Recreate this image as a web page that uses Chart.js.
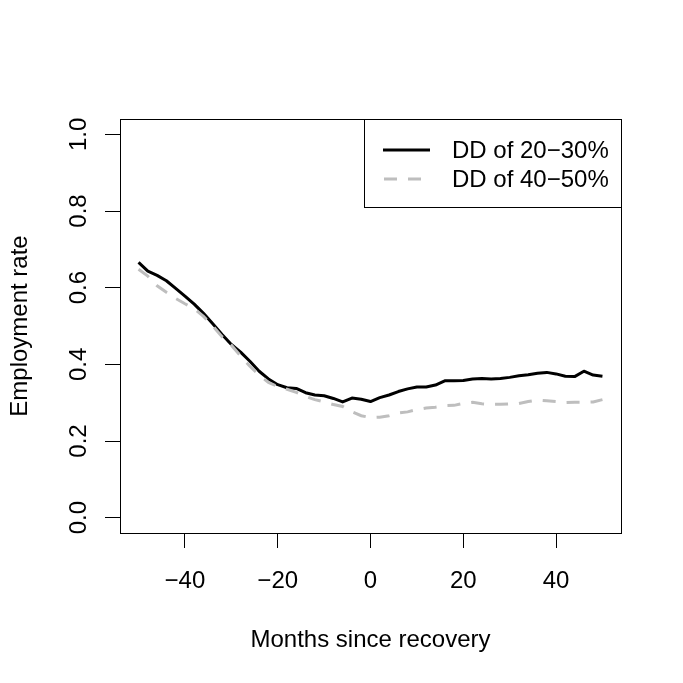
<!DOCTYPE html>
<html>
<head>
<meta charset="utf-8">
<script src="https://cdn.jsdelivr.net/npm/chart.js@4"></script>
<style>
  html, body { margin: 0; padding: 0; background: #fff; }
  canvas { display: block; }
</style>
</head>
<body>
<canvas id="chart" width="683" height="683"></canvas>
<script>
// --- Data ---
const months = [-50, -48, -46, -44, -42, -40, -38, -36, -34, -32, -30, -28, -26, -24, -22, -20, -18, -16, -14, -12, -10,
                -8, -6, -4, -2, 0, 2, 4, 6, 8, 10, 12, 14, 16, 18, 20, 22, 24, 26, 28, 30,
                32, 34, 36, 38, 40, 42, 44, 46, 48, 50];
const dd2030 = [0.666, 0.643, 0.632, 0.618, 0.598, 0.578, 0.557, 0.533, 0.506, 0.478, 0.452, 0.432, 0.408, 0.382, 0.362, 0.347, 0.339, 0.337, 0.326, 0.320, 0.318,
                0.311, 0.302, 0.312, 0.309, 0.303, 0.313, 0.320, 0.329, 0.336, 0.341, 0.341, 0.346, 0.357, 0.357, 0.358, 0.362, 0.363, 0.362, 0.363, 0.366,
                0.370, 0.373, 0.377, 0.379, 0.375, 0.369, 0.368, 0.382, 0.372, 0.369];
const dd4050 = [0.648, 0.630, 0.605, 0.588, 0.572, 0.558, 0.545, 0.525, 0.500, 0.472, 0.450, 0.422, 0.395, 0.372, 0.353, 0.342, 0.335, 0.327, 0.316, 0.308, 0.302,
                0.295, 0.290, 0.276, 0.266, 0.261, 0.262, 0.266, 0.273, 0.276, 0.282, 0.286, 0.288, 0.292, 0.293, 0.298, 0.301, 0.297, 0.296, 0.296, 0.297,
                0.298, 0.303, 0.307, 0.305, 0.303, 0.300, 0.301, 0.301, 0.302, 0.308];
const xTicks = [-40, -20, 0, 20, 40];
const yTicks = [0, 0.2, 0.4, 0.6, 0.8, 1.0];
const yTickLabels = ['0.0', '0.2', '0.4', '0.6', '0.8', '1.0'];
const seriesNames = ['DD of 20\u221230%', 'DD of 40\u221250%'];

const FONT = '24px "Liberation Sans", Arial, sans-serif';
const GRAY = '#bebebe';

// R-style box, tick labels, titles and legend
const rStyle = {
    id: 'rStyle',
    afterDraw(chart) {
        const { ctx, chartArea: a, scales: { x, y } } = chart;
        ctx.save();
        ctx.strokeStyle = '#000';
        ctx.lineWidth = 1;
        ctx.strokeRect(a.left + 0.5, a.top + 0.5, a.right - a.left, a.bottom - a.top);

        ctx.fillStyle = '#000';
        ctx.font = FONT;
        ctx.textAlign = 'center';
        ctx.textBaseline = 'alphabetic';
        xTicks.forEach(v => {
            ctx.fillText(String(v).replace('-', '\u2212'), x.getPixelForValue(v), 588);
        });
        ctx.fillText('Months since recovery', (a.left + a.right) / 2, 647);

        yTicks.forEach((v, i) => {
            ctx.save();
            ctx.translate(86, y.getPixelForValue(v));
            ctx.rotate(-Math.PI / 2);
            ctx.fillText(yTickLabels[i], 0, 0);
            ctx.restore();
        });
        ctx.save();
        ctx.translate(27, (a.top + a.bottom) / 2);
        ctx.rotate(-Math.PI / 2);
        ctx.fillText('Employment rate', 0, 0);
        ctx.restore();

        // legend
        const lx = 364, ly = a.top;
        ctx.strokeStyle = '#000';
        ctx.lineWidth = 1;
        ctx.strokeRect(lx + 0.5, ly + 0.5, a.right - lx, 207 - ly);
        ctx.textAlign = 'left';
        ctx.lineWidth = 3;
        ctx.beginPath();
        ctx.moveTo(383, 150);
        ctx.lineTo(430, 150);
        ctx.stroke();
        ctx.strokeStyle = GRAY;
        ctx.setLineDash([13, 11]);
        ctx.beginPath();
        ctx.moveTo(384, 179);
        ctx.lineTo(430, 179);
        ctx.stroke();
        ctx.setLineDash([]);
        ctx.fillText(seriesNames[0], 452, 158);
        ctx.fillText(seriesNames[1], 452, 187);
        ctx.restore();
    }
};

const chart = new Chart(document.getElementById('chart'), {
    type: 'line',
    data: {
        datasets: [
            {
                label: seriesNames[0],
                data: months.map((m, i) => ({ x: m, y: dd2030[i] })),
                borderColor: '#000',
                borderWidth: 3,
                pointRadius: 0,
                borderJoinStyle: 'round',
                order: 2
            },
            {
                label: seriesNames[1],
                data: months.map((m, i) => ({ x: m, y: dd4050[i] })),
                borderColor: GRAY,
                borderWidth: 3,
                borderDash: [13, 11],
                pointRadius: 0,
                order: 1
            }
        ]
    },
    options: {
        responsive: false,
        animation: false,
        devicePixelRatio: 1,
        layout: { padding: { top: 119, right: 62, left: 0, bottom: 0 } },
        plugins: { legend: { display: false }, tooltip: { enabled: false } },
        scales: {
            x: {
                type: 'linear',
                min: -54,
                max: 54,
                afterBuildTicks: s => { s.ticks = xTicks.map(v => ({ value: v })); },
                afterFit: s => { s.height = 150; },
                ticks: { display: false },
                grid: { drawOnChartArea: false, drawTicks: true, tickLength: 15, color: '#000', lineWidth: 1 },
                border: { display: false }
            },
            y: {
                type: 'linear',
                min: -0.04,
                max: 1.04,
                afterBuildTicks: s => { s.ticks = yTicks.map(v => ({ value: v })); },
                afterFit: s => { s.width = 120; },
                ticks: { display: false },
                grid: { drawOnChartArea: false, drawTicks: true, tickLength: 15, color: '#000', lineWidth: 1 },
                border: { display: false }
            }
        }
    },
    plugins: [rStyle]
});
</script>
</body>
</html>
